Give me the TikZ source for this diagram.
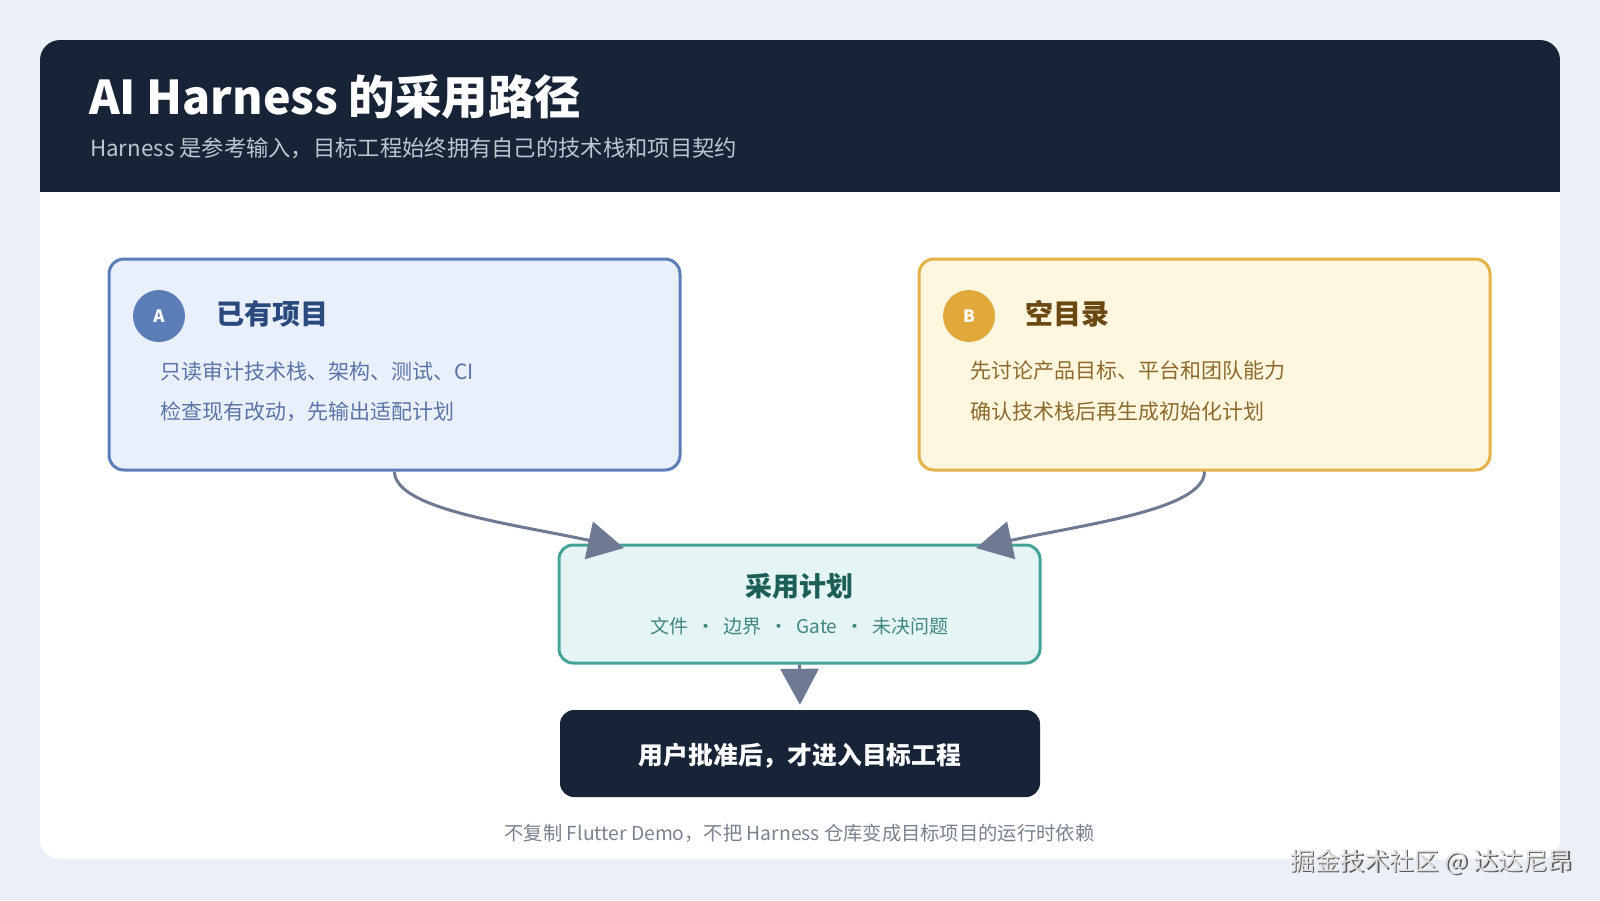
\documentclass[tikz,border=0pt]{standalone}
\usepackage{fontspec}
\setmainfont{Noto Sans CJK SC}
\usetikzlibrary{arrows.meta}
\definecolor{bgc}{HTML}{EBF0F8}
\definecolor{headc}{HTML}{172336}
\definecolor{subc}{HTML}{BCC6D3}
\definecolor{afill}{HTML}{EAF0FB}
\definecolor{adraw}{HTML}{5B7DB8}
\definecolor{ahead}{HTML}{2A4A7E}
\definecolor{atext}{HTML}{5A74A6}
\definecolor{bfill}{HTML}{FFF6E0}
\definecolor{bdraw}{HTML}{E3B248}
\definecolor{bcirc}{HTML}{E0A93A}
\definecolor{bhead}{HTML}{6A4812}
\definecolor{btext}{HTML}{8C6A2C}
\definecolor{pfill}{HTML}{E5F5F3}
\definecolor{pdraw}{HTML}{45A39A}
\definecolor{phead}{HTML}{1C5E58}
\definecolor{ptext}{HTML}{3F8783}
\definecolor{arrc}{HTML}{6E7A94}
\definecolor{footc}{HTML}{7A828E}
\tikzset{
  card/.style={rounded corners=15pt, line width=3pt, minimum width=571pt, minimum height=211pt},
  circ/.style={circle, minimum size=52pt, inner sep=0pt, text=white, font=\fontsize{17}{20}\selectfont\bfseries},
  txt/.style={inner sep=0pt},
  arr/.style={draw=arrc, line width=3pt, -{Triangle[length=36pt,width=38pt]}},
}
\begin{document}
\begin{tikzpicture}[x=1pt,y=-1pt]
\useasboundingbox (0,0) rectangle (1600,900);
\fill[bgc] (0,0) rectangle (1600,900);
% main card
\fill[white, rounded corners=20pt] (40,40) rectangle (1560,859);
\begin{scope}
  \clip[rounded corners=20pt] (40,40) rectangle (1560,859);
  \fill[headc] (40,40) rectangle (1560,192);
\end{scope}
\node[txt, anchor=west, text=white, font=\fontsize{46.5}{55}\selectfont\bfseries] (title) at (89,97) {AI Harness 的采用路径};
\node[txt, anchor=west, text=subc, font=\fontsize{22.3}{26}\selectfont] (sub) at (90,148) {Harness 是参考输入，目标工程始终拥有自己的技术栈和项目契约};

% box A
\node[card, draw=adraw, fill=afill] (a) at (394.5,364.5) {};
\node[circ, fill=adraw] (ca) at (159,316) {A};
\node[txt, anchor=west, text=ahead, font=\fontsize{28}{32}\selectfont\bfseries] (ha) at (216,314) {已有项目};
\node[txt, anchor=west, text=atext, font=\fontsize{21}{25}\selectfont] (a1) at (160,371) {只读审计技术栈、架构、测试、CI};
\node[txt, anchor=west, text=atext, font=\fontsize{21}{25}\selectfont] (a2) at (160,412) {检查现有改动，先输出适配计划};

% box B
\node[card, draw=bdraw, fill=bfill] (b) at (1204.5,364.5) {};
\node[circ, fill=bcirc] (cb) at (969,316) {B};
\node[txt, anchor=west, text=bhead, font=\fontsize{28}{32}\selectfont\bfseries] (hb) at (1025,314) {空目录};
\node[txt, anchor=west, text=btext, font=\fontsize{21}{25}\selectfont] (b1) at (970,371) {先讨论产品目标、平台和团队能力};
\node[txt, anchor=west, text=btext, font=\fontsize{21}{25}\selectfont] (b2) at (970,412) {确认技术栈后再生成初始化计划};

% plan
\node[draw=pdraw, fill=pfill, line width=3pt, rounded corners=14pt, minimum width=481pt, minimum height=118pt] (plan) at (799.5,604) {};
\node[txt, text=phead, font=\fontsize{27}{31}\selectfont\bfseries] (ph) at (799.5,586) {采用计划};
\node[txt, text=ptext, font=\fontsize{19}{23}\selectfont] (ps) at (799.5,626) {文件\hspace{0.42em}·\hspace{0.42em}边界\hspace{0.42em}·\hspace{0.42em}Gate\hspace{0.42em}·\hspace{0.42em}未决问题};

% final
\node[fill=headc, rounded corners=14pt, minimum width=480pt, minimum height=87pt] (fin) at (800,753.5) {};
\node[txt, text=white, font=\fontsize{24.8}{29}\selectfont\bfseries] (ft) at (800,756) {用户批准后，才进入目标工程};

% footer
\node[txt, text=footc, font=\fontsize{19.3}{23}\selectfont] (foot) at (799.5,833) {不复制 Flutter Demo，不把 Harness 仓库变成目标项目的运行时依赖};

% arrows
\coordinate (pl) at (624,548);
\coordinate (pr) at (976,548);
\draw[arr] (a.south) .. controls +(0,38) and +(-110,-24) .. (pl);
\draw[arr] (b.south) .. controls +(0,38) and +(110,-24) .. (pr);
\draw[arr, shorten >=5pt] (plan.south) -- (fin.north);

% watermark
\node[txt, anchor=west, text=black!65, font=\fontsize{24.8}{28}\selectfont] (wms) at (1291.5,863.5) {掘金技术社区 @ 达达尼昂};
\node[txt, anchor=west, text=black!12, font=\fontsize{24.8}{28}\selectfont] (wm) at (1290,862) {掘金技术社区 @ 达达尼昂};
\end{tikzpicture}
\end{document}
